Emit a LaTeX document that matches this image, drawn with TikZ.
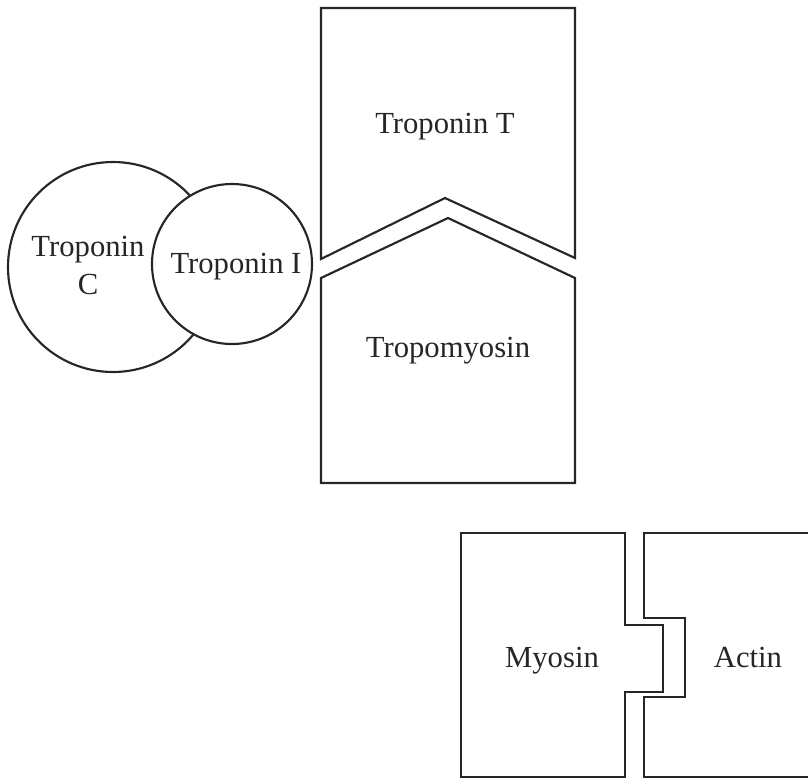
\documentclass[tikz,border=0pt]{standalone}
\usepackage{fontspec}
\setmainfont{Liberation Serif}
\tikzset{
    part/.style={draw=black!85, line width=1.6pt, fill=white, line join=miter},
    partname/.style={font=\fontsize{23}{28.5}\selectfont, align=center, text=black!85}
}

\begin{document}
\begin{tikzpicture}[x=0.75pt, y=-0.75pt]
    \useasboundingbox (0,0) rectangle (808,779);
    % troponin complex
    \draw[part] (113,267) circle (105);
    \draw[part] (232,264) circle (80);
    \node[partname] (tnc) at (88,265) {Troponin\\C};
    \node[partname, anchor=base] (tni) at (236,273) {Troponin I};
    % troponin T over tropomyosin
    \draw[part] (321,8) -- (575,8) -- (575,258) -- (445,198) -- (321,259) -- cycle;
    \draw[part] (321,278) -- (448,218) -- (575,278) -- (575,483) -- (321,483) -- cycle;
    \node[partname, anchor=base] (tnt) at (445,133) {Troponin T};
    \node[partname, anchor=base] (tpm) at (448,357) {Tropomyosin};
    % myosin and actin
    \begin{scope}
        \clip (0,0) rectangle (808,779);
        \draw[part] (461,533) -- (625,533) -- (625,625) -- (663,625) -- (663,692)
            -- (625,692) -- (625,777) -- (461,777) -- cycle;
        \draw[part] (815,533) -- (644,533) -- (644,618) -- (685,618) -- (685,697)
            -- (644,697) -- (644,777) -- (815,777);
    \end{scope}
    \node[partname, anchor=base] (myo) at (552,667) {Myosin};
    \node[partname, anchor=base] (act) at (748,667) {Actin};
\end{tikzpicture}
\end{document}
